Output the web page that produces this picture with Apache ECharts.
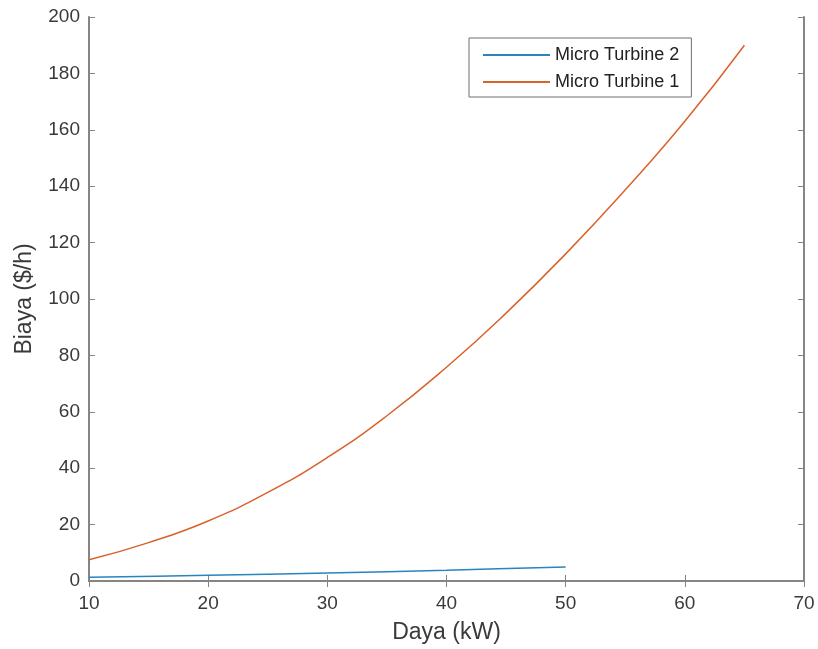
<!DOCTYPE html>
<html>
<head>
<meta charset="utf-8">
<script src="https://cdn.jsdelivr.net/npm/echarts@6/dist/echarts.min.js"></script>
<style>
html,body{margin:0;padding:0;background:#fff;}
#chart{width:818px;height:649px;}
</style>
</head>
<body>
<div id="chart"></div>
<script>
// Data
const mt2Power = [10, 20, 30, 40, 50];
const mt2Cost  = [1.3, 2.0, 2.8, 3.8, 5.0];
const mt1Power = [10, 15, 20, 25, 30, 35, 40, 45, 50, 55, 60, 65];
const mt1Cost  = [7.5, 13.6, 21.3, 31.4, 43.8, 58.6, 75.8, 95, 116, 138.7, 163, 190];
const seriesNames = ['Micro Turbine 2', 'Micro Turbine 1'];
const xTicks = {min: 10, max: 70, interval: 10};
const yTicks = {min: 0, max: 200, interval: 20};

const pairs = (xs, ys) => xs.map((x, i) => [x, ys[i]]);
const FONT = 'Liberation Sans, Arial, sans-serif';
const AX = '#858585';
const TXT = '#3a3a3a';
const C2 = '#2a84bd';
const C1 = '#d9622b';

const chart = echarts.init(document.getElementById('chart'), null, {renderer: 'canvas'});
const tickCommon = {show: true, inside: true, length: 6, lineStyle: {color: AX, width: 1}};
chart.setOption({
  animation: false,
  backgroundColor: '#ffffff',
  grid: {left: 89, right: 14, top: 17, bottom: 68, containLabel: false},
  legend: {
    orient: 'vertical',
    left: 469, top: 38,
    padding: [7, 12, 5, 14],
    itemGap: 7,
    itemWidth: 67, itemHeight: 2,
    icon: 'rect',
    borderColor: '#6f6f6f', borderWidth: 1,
    backgroundColor: '#fff',
    textStyle: {fontFamily: FONT, fontSize: 18, color: '#222', lineHeight: 20},
    data: [
      {name: seriesNames[0], itemStyle: {color: C2}},
      {name: seriesNames[1], itemStyle: {color: C1}}
    ]
  },
  xAxis: [{
    type: 'value', min: xTicks.min, max: xTicks.max, interval: xTicks.interval,
    name: 'Daya (kW)', nameLocation: 'middle', nameGap: 40,
    nameTextStyle: {fontFamily: FONT, fontSize: 23, color: TXT},
    axisLine: {show: true, lineStyle: {color: AX, width: 2}},
    axisTick: tickCommon,
    axisLabel: {fontFamily: FONT, fontSize: 19, color: TXT, margin: 13},
    splitLine: {show: false}
  }, {
    type: 'value', position: 'top', min: xTicks.min, max: xTicks.max, interval: xTicks.interval,
    axisLine: {show: true, lineStyle: {color: AX, width: 2}},
    axisTick: tickCommon,
    axisLabel: {show: false}, splitLine: {show: false}
  }],
  yAxis: [{
    type: 'value', min: yTicks.min, max: yTicks.max, interval: yTicks.interval,
    name: 'Biaya ($/h)', nameLocation: 'middle', nameGap: 53,
    nameTextStyle: {fontFamily: FONT, fontSize: 23, color: TXT},
    axisLine: {show: true, lineStyle: {color: AX, width: 2}},
    axisTick: tickCommon,
    axisLabel: {fontFamily: FONT, fontSize: 19, color: TXT, margin: 9},
    splitLine: {show: false}
  }, {
    type: 'value', position: 'right', min: yTicks.min, max: yTicks.max, interval: yTicks.interval,
    axisLine: {show: true, lineStyle: {color: AX, width: 2}},
    axisTick: tickCommon,
    axisLabel: {show: false}, splitLine: {show: false}
  }],
  series: [{
    name: seriesNames[0], type: 'line', symbol: 'none', smooth: 0.3,
    data: pairs(mt2Power, mt2Cost),
    lineStyle: {color: C2, width: 1.5}, itemStyle: {color: C2}
  }, {
    name: seriesNames[1], type: 'line', symbol: 'none', smooth: 0.5,
    data: pairs(mt1Power, mt1Cost),
    lineStyle: {color: C1, width: 1.5}, itemStyle: {color: C1}
  }]
});
</script>
</body>
</html>
